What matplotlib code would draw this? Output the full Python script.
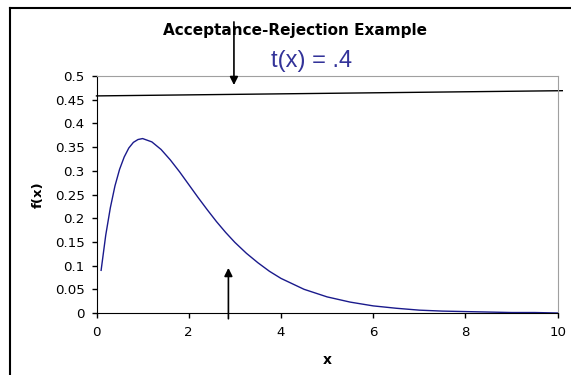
import matplotlib
matplotlib.use("Agg")
import matplotlib.pyplot as plt
from matplotlib.lines import Line2D

# Werte
xValues = [0.1, 0.2, 0.3, 0.4, 0.5, 0.6, 0.7, 0.8, 0.9, 1.0, 1.2, 1.4, 1.6, 1.8,
           2.0, 2.2, 2.4, 2.6, 2.8, 3.0, 3.25, 3.5, 3.75, 4.0, 4.5, 5.0, 5.5,
           6.0, 6.5, 7.0, 7.5, 8.0, 8.5, 9.0, 9.5, 10.0]
fValues = [0.090, 0.164, 0.222, 0.268, 0.303, 0.329, 0.348, 0.360, 0.366, 0.368,
           0.361, 0.345, 0.323, 0.298, 0.271, 0.244, 0.218, 0.193, 0.170, 0.149,
           0.126, 0.106, 0.088, 0.073, 0.050, 0.034, 0.023, 0.015, 0.010, 0.006,
           0.004, 0.003, 0.002, 0.001, 0.001, 0.000]

# Majorante t(x), fast waagerecht
tX = [0.0, 10.1]
tValues = [0.458, 0.469]

xTicks = [0, 2, 4, 6, 8, 10]
yTicks = [0, 0.05, 0.1, 0.15, 0.2, 0.25, 0.3, 0.35, 0.4, 0.45, 0.5]
yTickLabels = ["0", "0.05", "0.1", "0.15", "0.2", "0.25", "0.3", "0.35", "0.4", "0.45", "0.5"]

plt.rcParams["font.family"] = ["DejaVu Sans"]

W, H = 571, 375
fig = plt.figure(figsize=(W / 100, H / 100), dpi=100)
ax = fig.add_axes([96.5 / W, 1 - 313 / H, (557.7 - 96.5) / W, (313 - 76) / H])

ax.plot(xValues, fValues, color="#1a1a8c", linewidth=1.0)
ax.plot(tX, tValues, color="black", linewidth=1.0, clip_on=False)

ax.set_xlim(0, 10)
ax.set_ylim(0, 0.5)
ax.set_xticks(xTicks)
ax.set_xticklabels([str(t) for t in xTicks])
ax.set_yticks(yTicks)
ax.set_yticklabels(yTickLabels)
ax.tick_params(direction="out", length=3.6, width=1, labelsize=9.6)
ax.tick_params(axis="x", pad=6)
ax.tick_params(axis="y", pad=5)

for side in ["top", "right"]:
    ax.spines[side].set_color("#a0a0a0")
for side in ["left", "bottom"]:
    ax.spines[side].set_color("black")

ax.set_xlabel("x", fontweight="bold", fontsize=10, labelpad=10)
ax.set_ylabel("f(x)", fontweight="bold", fontsize=9.5, labelpad=7)

# Pfeile
ax.annotate("", xy=(2.98, 0.475), xytext=(2.98, 0.62), annotation_clip=False,
            arrowprops=dict(arrowstyle="-|>", color="black", lw=1.2, mutation_scale=12))
ax.annotate("", xy=(2.86, 0.101), xytext=(2.86, -0.018), annotation_clip=False,
            arrowprops=dict(arrowstyle="-|>", color="black", lw=1.2, mutation_scale=12))

fig.text(295 / W, 1 - 31 / H, "Acceptance-Rejection Example", ha="center", va="center",
         fontsize=11, fontweight="bold")
fig.text(311.5 / W, 1 - 61 / H, "t(x) = .4", ha="center", va="center",
         fontsize=17, color="#333399", family=["Liberation Sans", "DejaVu Sans"])

# Rahmen links und oben
fig.add_artist(Line2D([10 / W, 10 / W], [0, 1 - 8 / H], color="black", lw=1.5))
fig.add_artist(Line2D([10 / W, 1], [1 - 8 / H, 1 - 8 / H], color="black", lw=1.5))

fig.savefig("out.png", dpi=100)
